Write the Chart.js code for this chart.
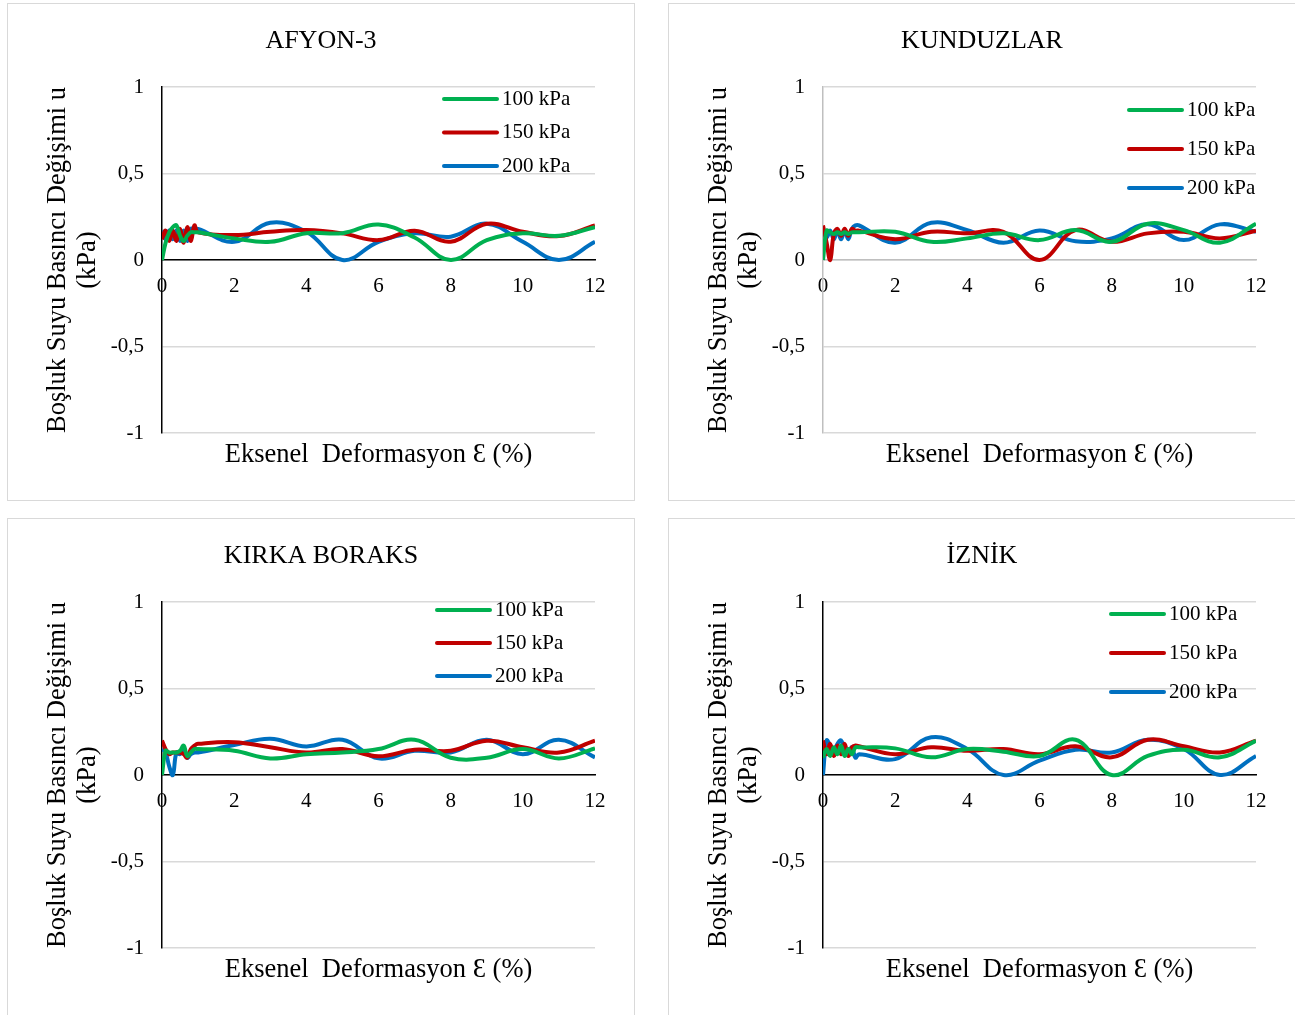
<!DOCTYPE html>
<html>
<head>
<meta charset="utf-8">
<script src="https://cdn.jsdelivr.net/npm/chart.js@4.4.0/dist/chart.umd.min.js"></script>
<style>
  body { margin: 0; background: #fff; }
  .panel { position: absolute; width: 626px; height: 496px; border: 1px solid #d9d9d9; background: #fff; }
</style>
</head>
<body>
<div class="panel" style="left:7px;top:3px"><canvas id="afyon"></canvas></div>
<div class="panel" style="left:668px;top:3px"><canvas id="kunduzlar"></canvas></div>
<div class="panel" style="left:7px;top:518px"><canvas id="kirka"></canvas></div>
<div class="panel" style="left:668px;top:518px"><canvas id="iznik"></canvas></div>
<script>
'use strict';

// axial strain (%) shared by every curve
let strain = [0, 0.1, 0.2, 0.3, 0.4, 0.5, 0.6, 0.7, 0.8, 0.9, 1, 2, 3, 4, 5, 6, 7, 8, 9, 10, 11, 12];

let seriesLabels = ['100 kPa', '150 kPa', '200 kPa'];
let seriesColors = ['#00b050', '#c00000', '#0070c0'];

let yTicks = [-1, -0.5, 0, 0.5, 1];
let xTicks = [0, 2, 4, 6, 8, 10, 12];

// pore pressure change u (kPa)
let afyon100 = [0, 0.1, 0.16, 0.19, 0.2, 0.14, 0.11, 0.14, 0.16, 0.16, 0.16, 0.125, 0.105, 0.155, 0.155, 0.205, 0.13, 0, 0.115, 0.154, 0.14, 0.19];
let afyon150 = [0.12, 0.17, 0.11, 0.17, 0.11, 0.18, 0.1, 0.19, 0.11, 0.2, 0.16, 0.144, 0.163, 0.173, 0.154, 0.115, 0.169, 0.106, 0.21, 0.163, 0.138, 0.2];
let afyon200 = [0.17, 0.12, 0.17, 0.12, 0.17, 0.11, 0.17, 0.11, 0.18, 0.18, 0.18, 0.105, 0.215, 0.163, 0, 0.105, 0.154, 0.135, 0.21, 0.105, 0, 0.105];

let kunduzlar100 = [0, 0.17, 0.16, 0.15, 0.16, 0.15, 0.16, 0.15, 0.16, 0.16, 0.16, 0.163, 0.105, 0.125, 0.154, 0.115, 0.173, 0.105, 0.21, 0.173, 0.1, 0.21];
let kunduzlar150 = [0.2, 0.1, 0, 0.15, 0.18, 0.14, 0.18, 0.14, 0.18, 0.17, 0.17, 0.12, 0.163, 0.154, 0.163, 0, 0.173, 0.105, 0.154, 0.163, 0.125, 0.17];
let kunduzlar200 = [0.17, 0.13, 0.17, 0.12, 0.17, 0.12, 0.17, 0.12, 0.18, 0.2, 0.2, 0.1, 0.215, 0.173, 0.1, 0.17, 0.108, 0.125, 0.206, 0.115, 0.206, 0.163];

let kirka100 = [0, 0.14, 0.13, 0.13, 0.13, 0.14, 0.17, 0.11, 0.13, 0.15, 0.15, 0.14, 0.096, 0.12, 0.13, 0.15, 0.204, 0.1, 0.1, 0.15, 0.096, 0.154];
let kirka150 = [0.2, 0.15, 0.12, 0.13, 0.13, 0.13, 0.12, 0.1, 0.15, 0.17, 0.18, 0.19, 0.16, 0.13, 0.15, 0.108, 0.146, 0.14, 0.198, 0.16, 0.13, 0.198];
let kirka200 = [0.15, 0.13, 0.05, 0, 0.13, 0.12, 0.16, 0.1, 0.12, 0.13, 0.13, 0.173, 0.21, 0.165, 0.204, 0.096, 0.14, 0.13, 0.204, 0.12, 0.204, 0.102];

let iznik100 = [0.1, 0.15, 0.11, 0.16, 0.12, 0.17, 0.11, 0.15, 0.12, 0.16, 0.16, 0.154, 0.102, 0.15, 0.135, 0.11, 0.204, 0, 0.11, 0.146, 0.102, 0.198];
let iznik150 = [0.2, 0.12, 0.18, 0.11, 0.17, 0.12, 0.18, 0.11, 0.16, 0.17, 0.166, 0.12, 0.16, 0.14, 0.15, 0.12, 0.166, 0.102, 0.204, 0.166, 0.13, 0.198];
let iznik200 = [0, 0.2, 0.17, 0.14, 0.18, 0.2, 0.15, 0.13, 0.16, 0.1, 0.12, 0.092, 0.218, 0.15, 0, 0.083, 0.146, 0.13, 0.204, 0.15, 0, 0.11];

let xTitle = 'Eksenel  Deformasyon Ɛ (%)';
let yTitle = ['Boşluk Suyu Basıncı Değişimi u', '(kPa)'];

let serif = '"Liberation Serif", "Times New Roman", serif';

let panels = [
  {id: 'afyon', title: 'AFYON-3', series: [afyon100, afyon150, afyon200], axisColor: '#000', legend: {x: 436, y: 95, gap: 33.5}},
  {id: 'kunduzlar', title: 'KUNDUZLAR', series: [kunduzlar100, kunduzlar150, kunduzlar200], axisColor: '#bfbfbf', legend: {x: 460, y: 106, gap: 39}},
  {id: 'kirka', title: 'KIRKA BORAKS', series: [kirka100, kirka150, kirka200], axisColor: '#000', legend: {x: 429, y: 91, gap: 33}},
  {id: 'iznik', title: 'İZNİK', series: [iznik100, iznik150, iznik200], axisColor: '#000', legend: {x: 442, y: 95, gap: 39}}
];

// chart title centred on the whole panel, x axis title centred on the plot area
let titlesPlugin = {
  id: 'titles',
  afterDraw(chart, args, opts) {
    let ctx = chart.ctx;
    let area = chart.chartArea;
    ctx.save();
    ctx.fillStyle = '#000';
    ctx.textAlign = 'center';
    ctx.textBaseline = 'middle';
    ctx.font = '26px ' + serif;
    ctx.fillText(opts.text, chart.width / 2, 37);
    ctx.font = '26.5px ' + serif;
    ctx.fillText(xTitle, (area.left + area.right) / 2, area.bottom + 22);
    ctx.restore();
  }
};

// legend drawn inside the plot like the excel one
let panelLegendPlugin = {
  id: 'panelLegend',
  afterDatasetsDraw(chart, args, opts) {
    let ctx = chart.ctx;
    ctx.save();
    ctx.font = '21px ' + serif;
    ctx.textBaseline = 'middle';
    ctx.textAlign = 'left';
    chart.data.datasets.forEach(function(ds, i) {
      let y = opts.y + i * opts.gap;
      ctx.strokeStyle = ds.borderColor;
      ctx.lineWidth = 4;
      ctx.lineCap = 'round';
      ctx.beginPath();
      ctx.moveTo(opts.x, y);
      ctx.lineTo(opts.x + 53, y);
      ctx.stroke();
      ctx.fillStyle = '#000';
      ctx.fillText(ds.label, opts.x + 58, y);
    });
    ctx.restore();
  }
};

function makeChart(panel) {
  let datasets = [];
  for (let i = 0; i < panel.series.length; i++) {
    datasets.push({
      label: seriesLabels[i],
      data: strain.map(function(x, j) { return {x: x, y: panel.series[i][j]}; }),
      borderColor: seriesColors[i],
      borderWidth: 4,
      pointRadius: 0,
      tension: 0.4,
      fill: false
    });
  }

  let config = {
    type: 'line',
    data: {datasets: datasets},
    plugins: [titlesPlugin, panelLegendPlugin],
    options: {
      responsive: true,
      maintainAspectRatio: false,
      animation: false,
      layout: {padding: {left: 0, right: 39, top: 83, bottom: 67}},
      plugins: {
        legend: {display: false},
        tooltip: {enabled: false},
        title: {display: false},
        titles: {text: panel.title},
        panelLegend: panel.legend
      },
      scales: {
        x: {
          type: 'linear',
          position: {y: 0},
          min: 0,
          max: 12,
          afterBuildTicks: function(scale) { scale.ticks = xTicks.map(function(v) { return {value: v}; }); },
          grid: {display: false, drawTicks: false},
          border: {display: true, color: panel.axisColor, width: 1.5},
          ticks: {color: '#000', font: {size: 21, family: serif}, padding: 14, maxRotation: 0, autoSkip: false}
        },
        y: {
          min: -1,
          max: 1,
          afterBuildTicks: function(scale) { scale.ticks = yTicks.map(function(v) { return {value: v}; }); },
          afterFit: function(scale) { scale.width = 154; },
          grid: {color: '#d9d9d9', lineWidth: 1.5, drawTicks: false},
          border: {display: true, color: panel.axisColor, width: 1.5},
          ticks: {
            color: '#000',
            font: {size: 21, family: serif},
            padding: 18,
            callback: function(v) { return String(v).replace('.', ','); }
          },
          title: {
            display: true,
            text: yTitle,
            color: '#000',
            font: {size: 26.5, family: serif, lineHeight: 1.13},
            padding: {top: 35, bottom: 0}
          }
        }
      }
    }
  };

  new Chart(document.getElementById(panel.id), config);
}

panels.forEach(makeChart);
</script>
</body>
</html>
